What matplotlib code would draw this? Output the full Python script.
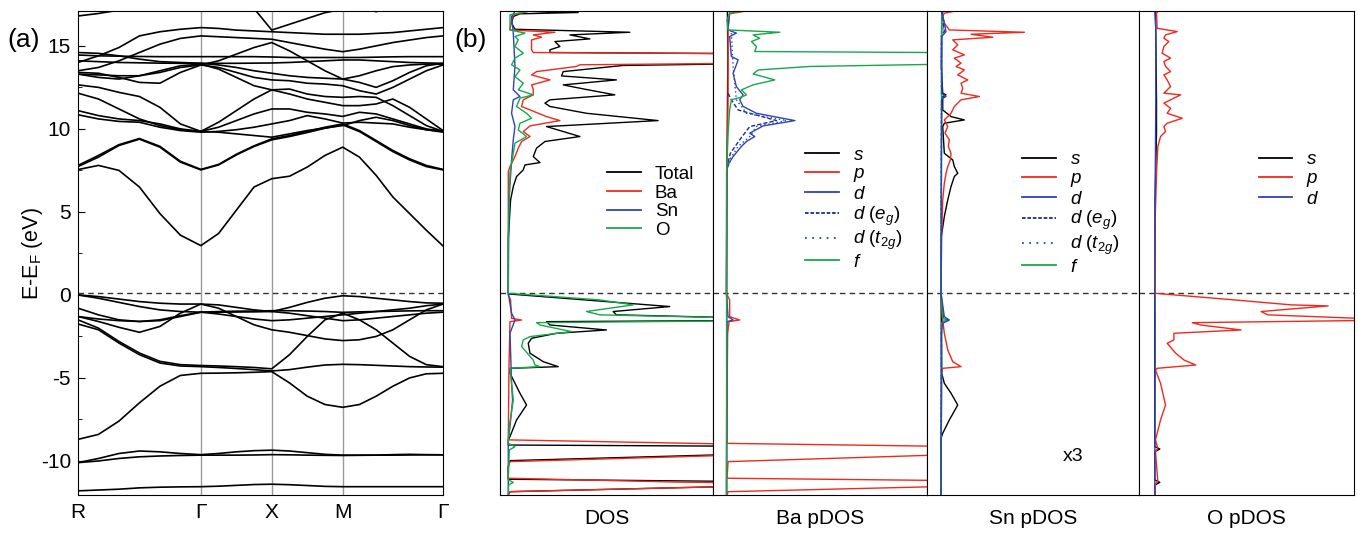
import matplotlib
matplotlib.use("Agg")
import matplotlib.pyplot as plt
from matplotlib.lines import Line2D
import numpy as np

plt.rcParams['font.family'] = ['Liberation Sans', 'DejaVu Sans']
plt.rcParams['mathtext.fontset'] = 'custom'
plt.rcParams['mathtext.rm'] = 'Liberation Sans'
plt.rcParams['mathtext.it'] = 'Liberation Sans:italic'
plt.rcParams['axes.unicode_minus'] = False

RED = '#f0281e'
BLUE = '#2b45b5'
NAVY = '#1c2c8c'
GREEN = '#16a84a'

# ---------------- band structure data ----------------
kpath_labels = ['R', 'Γ', 'X', 'M', 'Γ']
kpath_nodes = [0.0, 0.866, 1.366, 1.866, 2.573]
seg_points = [6, 4, 4, 6]

bands = [
    [-11.8,-11.75,-11.7,-11.62,-11.58,-11.56,-11.55, -11.52,-11.47,-11.42,-11.4, -11.43,-11.48,-11.53,-11.55, -11.55,-11.55,-11.55,-11.55,-11.55,-11.55],
    [-10.1,-9.85,-9.55,-9.4,-9.45,-9.55,-9.62, -9.55,-9.45,-9.38,-9.35, -9.4,-9.5,-9.6,-9.65, -9.65,-9.65,-9.62,-9.6,-9.62,-9.63],
    [-10.1,-10.0,-9.85,-9.75,-9.7,-9.67,-9.65, -9.65,-9.65,-9.64,-9.62, -9.63,-9.65,-9.66,-9.67, -9.66,-9.65,-9.65,-9.64,-9.63,-9.63],
    [-8.7,-8.4,-7.6,-6.5,-5.5,-4.85,-4.72, -4.71,-4.69,-4.66,-4.62, -5.3,-6.1,-6.6,-6.77, -6.6,-6.1,-5.5,-5.0,-4.75,-4.72],
    [-1.75,-2.1,-2.9,-3.6,-4.1,-4.28,-4.32, -4.37,-4.43,-4.5,-4.58, -4.5,-4.35,-4.22,-4.18, -4.2,-4.24,-4.28,-4.32,-4.34,-4.35],
    [-1.5,-2.0,-2.8,-3.5,-4.0,-4.2,-4.25, -4.28,-4.32,-4.37,-4.45, -3.6,-2.5,-1.5,-1.1, -1.5,-2.1,-2.9,-3.7,-4.2,-4.32],
    [0.0,-0.1,-0.25,-0.4,-0.5,-0.55,-0.55, -0.6,-0.75,-0.9,-1.0, -0.75,-0.45,-0.2,-0.05, -0.1,-0.2,-0.3,-0.4,-0.48,-0.5],
    [0.0,-0.2,-0.45,-0.7,-0.9,-1.0,-1.04, -1.04,-1.03,-1.02,-1.0, -1.1,-1.25,-1.4,-1.55, -1.5,-1.4,-1.3,-1.2,-1.1,-1.04],
    [-1.3,-1.6,-1.95,-2.25,-1.9,-1.1,-0.55, -0.8,-1.3,-1.8,-2.1, -2.25,-2.45,-2.65,-2.75, -2.7,-2.5,-2.1,-1.5,-0.9,-0.55],
    [-0.8,-1.2,-1.5,-1.6,-1.55,-1.3,-1.04, -1.15,-1.3,-1.45,-1.55, -1.5,-1.4,-1.3,-1.2, -1.1,-1.0,-0.9,-0.8,-0.65,-0.55],
    [-1.3,-1.45,-1.55,-1.6,-1.5,-1.25,-1.04, -1.0,-0.98,-0.97,-0.95, -0.95,-0.97,-1.0,-1.05, -1.02,-1.0,-0.98,-0.96,-0.95,-0.95],
    [7.55,7.8,7.5,6.5,4.9,3.6,2.97, 3.7,5.1,6.5,7.0, 7.15,7.7,8.4,8.9, 8.3,7.2,5.9,4.9,3.9,2.95],
    [7.73,8.3,9.0,9.38,8.9,8.0,7.53, 7.83,8.43,8.94,9.34, 9.54,9.78,10.04,10.24, 9.84,9.24,8.63,8.13,7.73,7.53],
    [7.8,8.4,9.05,9.42,8.95,8.05,7.56, 7.86,8.47,8.98,9.4, 9.6,9.85,10.1,10.3, 9.9,9.3,8.7,8.2,7.8,7.56],
    [11.1,10.8,10.6,10.5,10.3,10.0,9.85, 10.1,10.5,10.9,11.2, 11.2,11.0,10.9,10.75, 11.0,10.9,10.6,10.3,10.0,9.85],
    [10.85,10.6,10.45,10.4,10.1,9.9,9.8, 9.85,9.95,10.1,10.3, 10.5,10.8,10.6,10.35, 10.4,10.35,10.3,10.1,9.95,9.85],
    [12.15,11.8,11.2,10.6,10.2,9.95,9.85, 9.8,9.7,9.6,9.5, 9.7,9.9,10.05,10.2, 10.5,10.7,10.5,10.2,9.95,9.8],
    [12.65,12.5,12.2,11.95,11.3,10.3,9.85, 10.4,11.1,11.8,12.35, 12.4,12.1,11.95,11.9, 11.95,11.9,11.4,10.8,10.2,9.85],
    [13.3,13.25,13.2,13.2,13.4,13.7,13.85, 13.7,13.4,13.1,12.95, 12.9,12.75,12.7,12.6, 12.3,12.1,12.5,13.0,13.5,13.85],
    [13.4,13.35,13.1,12.8,12.75,13.4,13.85, 14.1,14.5,14.9,15.2, 14.7,14.1,13.5,13.0, 13.2,13.5,13.75,13.85,13.9,13.9],
    [14.45,14.4,14.38,14.36,14.35,14.35,14.35, 14.35,14.35,14.35,14.33, 14.3,14.3,14.3,14.3, 14.3,14.32,14.34,14.35,14.35,14.35],
    [14.1,14.05,14.0,13.98,13.96,13.95,13.95, 13.95,13.95,13.96,13.97, 14.0,14.05,14.1,14.15, 14.15,14.1,14.05,14.0,13.97,13.95],
    [13.5,13.7,14.1,14.6,15.1,15.45,15.6, 15.55,15.5,15.45,15.4, 15.2,15.0,14.8,14.65, 14.8,15.0,15.2,15.35,15.5,15.6],
    [14.0,14.4,14.9,15.6,15.85,16.0,16.1, 16.05,15.95,15.9,15.85, 15.8,15.75,15.7,15.7, 15.7,15.75,15.8,15.9,16.0,16.1],
    [14.6,14.55,14.4,14.2,14.05,14.0,13.95, 13.85,13.7,13.5,13.35, 13.2,13.1,13.05,13.0, 12.8,12.5,12.9,13.4,13.8,13.95],
    [13.3,13.1,13.0,13.2,13.5,13.8,13.9, 13.6,13.1,12.6,12.35, 12.1,11.8,11.6,11.4, 11.4,11.5,11.8,11.3,10.6,9.9],
    [16.8,16.95,17.15,17.4,17.6,17.8,17.9, 18.2,18.0,17.25,15.95, 16.3,16.65,17.0,17.2, 17.3,17.4,17.5,17.6,17.7,17.8],
    [18.0,18.0,18.0,18.0,18.0,18.0,18.0, 18.0,18.0,18.0,18.0, 18.0,18.0,18.0,17.6, 17.3,17.06,17.3,17.6,17.8,18.0],
]

# ---------------- DOS data (E in eV, DOS in arb. units) ----------------
tot_E = [17.11,17.01,16.93,16.77,16.37,16.0,15.82,15.66,15.42,15.26,14.96,14.76,14.6,14.5,14.0,13.82,13.45,13.19,12.95,12.65,12.39,12.05,11.75,11.55,11.35,10.94,10.5,10.14,9.84,9.54,9.24,8.84,8.33,7.97,7.83,7.53,7.13,6.53,5.72,3.41,
         0.06,-0.7,-1.0,-1.2,-1.51,-1.61,-1.81,-2.11,-2.31,-2.61,-2.91,-3.51,-4.02,-4.32,-4.42,-4.72,-5.92,-6.63,-7.53,-8.53,-8.73,-9.04,-9.14,-9.44,-9.98,-10.34,-11.1,-11.29,-11.39,-11.85,-12.05]
tot_v = [1.7,70,11.7,5,3.3,6.7,121.7,61.7,81.7,46.7,51.7,41.7,41.7,325,325,115,55,53.3,108.3,55,76.7,106.7,41.7,36.7,41.7,78.3,150,38.3,55,71.7,36.7,28.3,25,31.7,16.7,15,8.3,5,2.3,0,
         0,161.7,105,108.3,325,38.3,41.7,98.3,48.3,23.3,20,21.7,35,50,1.7,1.7,11.7,18.3,8.3,1.7,0,0,325,325,1.7,0,0,325,325,1.7,0]

ba_E = [17.07,16.87,16.57,15.96,15.82,15.66,15.52,15.36,14.76,14.6,14.5,14.0,13.86,13.76,13.45,13.25,12.95,12.65,12.39,12.05,11.75,11.35,10.74,10.5,10.18,9.84,9.54,9.24,8.84,8.33,7.73,7.43,
        0,-0.3,-1.41,-1.51,-1.61,-4.32,-8.73,-9.1,-9.48,-10.04,-10.34,-11.04,-11.27,-11.39,-11.85,-12.05]
ba_v = [20,5,3.3,1.7,46.7,25,33.3,23.3,23.3,25,325,325,71.7,68.3,28.3,23.3,41.7,23.3,25,25,15,13.3,38.3,51.7,21.7,15,21.7,13.3,10,6.7,1.7,0,
        0,2.3,3.3,13.3,1.7,0.7,0,325,325,1.7,0,0,168,325,1.7,0]

sn_E = [17.07,16.77,15.77,13.76,12.35,11.95,11.75,10.94,10.14,9.34,8.13,5.72,0.1,-1.1,-1.51,-2.31,-5.32,-6.33,-7.93,-8.73,-12.05]
sn_v = [6.7,3.3,5,6.7,5,11.7,5,3.3,6.7,5,3.3,0.7,0,3.3,6.7,1.7,3.3,4.3,1.7,0,0]

o_E = [17.07,16.87,15.96,15.77,15.56,15.36,14.96,14.56,14.26,13.86,13.55,13.15,12.75,12.35,12.05,11.85,11.35,10.94,10.64,10.34,9.94,9.54,9.14,8.53,7.93,7.33,3.71,
       0.1,-0.3,-0.6,-1.0,-1.2,-1.51,-1.67,-1.81,-2.21,-2.51,-2.71,-3.11,-3.92,-4.22,-4.32,-4.42,-6.33,-7.93,-8.94,-9.14,-9.34,-11.14,-11.29,-11.45,-12.05]
o_v = [18.3,1.7,1.7,16.7,6.7,10,6.7,15,6.7,3.3,11.7,6.7,15,10,25,11.7,8.3,18.3,23.3,11.7,10,18.3,6.7,5,3.3,1.7,0,
       0,91.7,125,78.3,91.7,325,28.3,31.7,63.3,21.7,15,13.3,25,26.7,31.7,1.7,5,1,0,6.7,1,0,5,0.3,0]

# Ba pDOS
ba_f_E = [17.11,16.97,16.57,15.96,15.82,15.66,15.46,15.26,14.96,14.66,14.56,14.0,13.76,13.55,13.31,12.95,12.65,12.35,12.05,11.91,11.75,11.14,9.74,7.33,-12.05]
ba_f_v = [16.7,3.3,0.7,1.7,53.3,26.7,33.3,25,30,28.3,317,317,83.3,31.7,26.7,48.3,26.7,15,20,15,5,3.3,1.7,0.3,0.3]
ba_d_E = [17.07,15.96,15.77,15.56,14.36,14.16,13.86,13.35,12.55,12.05,11.75,11.35,10.94,10.5,10.18,9.74,9.54,9.24,8.94,8.33,7.93,7.53,0.1,-1.31,-1.51,-1.61,-12.05]
ba_d_v = [3.3,1.7,10,3.3,5,11.7,10,6.7,10,16.7,13.3,16.7,30,68.3,36.7,23.3,28.3,20,15,6.7,2.7,0.3,0,1.7,6.7,0.7,0]
ba_eg_E = [12.15,11.75,11.14,10.5,10.14,9.34,8.53,7.73]
ba_eg_v = [1.7,5,11.7,50,23.3,13.3,4,0.7]
ba_t2g_E = [15.77,13.76,11.75,10.94,10.5,10.14,9.54,8.94,8.13,7.63]
ba_t2g_v = [5,6.7,10,20,60,30,23.3,11.7,3.3,0.7]
ba_p_E = [17.07,16.93,16.16,11.75,7.73,0.1,-0.3,-1.31,-1.51,-1.61,-2.31,-4.32,-8.94,-9.2,-9.44,-10.04,-11.04,-11.24,-11.39,-11.85,-12.05]
ba_p_v = [16.7,3.3,1.7,1.7,0.7,0,3.3,3.3,13.3,2.7,1.3,1,0.7,317,317,1.7,0.7,317,317,1.7,0.7]
ba_s_E = [17.11,14.5,7.0,0.0,-12.05]
ba_s_v = [1.0,1.5,0.5,0.3,0.3]

# Sn pDOS (x3)
sn_p_E = [17.11,16.97,16.77,16.37,15.96,15.82,15.7,15.52,15.36,15.06,14.76,14.46,14.26,13.96,13.76,13.55,13.25,12.95,12.75,12.45,12.15,11.95,11.75,11.35,10.94,10.54,10.14,9.74,9.34,8.94,8.53,8.13,7.73,7.33,6.73,5.72,3.71,
          0.1,-1.51,-2.31,-3.31,-4.02,-4.32,-4.42,-4.62,-12.05]
sn_p_v = [15,3.3,1.7,3.3,8.3,83.3,30,51.7,11.7,16.7,11.7,23.3,13.3,20,15,23.3,16.7,26.7,20,21.7,20,38.3,20,13.3,10,3.3,6.7,4,8.3,7.3,10,9.3,6.7,5,3.3,1.7,0.7,
          0,1.7,3.3,6.7,11.7,20,1.7,0.7,0]
sn_s_E = [17.11,13.76,12.15,12.05,11.95,11.14,10.74,10.54,10.34,10.14,8.53,8.13,7.73,7.33,7.13,6.53,5.72,4.72,3.51,0.1,-4.72,-5.32,-5.92,-6.63,-7.53,-8.33,-8.63,-12.05]
sn_s_v = [0.7,0.3,1.7,5,1.7,1.7,10,23.3,3.3,1.7,3.3,11.7,13.3,16.7,13.3,10,6.7,3.3,0.3,0,0.7,3.3,10,16.7,8.3,1.7,0,0]
sn_d_E = [17.11,15.86,15.56,12.15,11.95,11.81,0.1,-1.31,-1.51,-1.71,-2.31,-12.05]
sn_d_v = [0.7,5,0.7,0.7,5,0.7,0,3.3,8.3,1.7,0.3,0]
sn_eg_E = [17.11,15.86,15.6,12.1,11.95,11.8,0.1,-1.4,-1.51,-1.65,-12.05]
sn_eg_v = [0.5,3.3,0.5,0.5,3.3,0.5,0,2.5,6.7,0.5,0]
sn_t2g_E = [17.11,15.86,15.6,12.1,11.95,11.8,0.1,-1.4,-1.51,-1.65,-12.05]
sn_t2g_v = [0.4,2.5,0.4,0.4,2.5,0.4,0,2,5.5,0.4,0]
sn_f_E = [17.11,16.87,0.1,-1.41,-1.51,-1.67,-12.05]
sn_f_v = [2.7,0.7,0,1.7,6,0.7,0]

# O pDOS
o_p_E = [17.11,16.97,16.06,15.86,15.66,15.46,15.26,14.96,14.56,14.26,14.06,13.76,13.45,13.25,12.95,12.55,12.15,12.05,11.75,11.55,11.24,10.94,10.64,10.34,10.14,9.84,9.54,8.94,7.33,3.71,
         0.1,-0.3,-0.6,-0.66,-1.0,-1.2,-1.51,-1.67,-1.81,-2.11,-2.31,-2.71,-2.91,-3.51,-3.92,-4.22,-4.42,-4.52,-5.32,-6.63,-7.53,-8.73,-9.24,-9.44,-11.24,-11.39,-12.05]
o_p_v = [4,1.7,2.3,22.3,10.7,9,14,9,7.3,15.7,9,10.7,15.7,9,12.3,15.7,9,25.7,15.7,9,15.7,12.3,27.3,12.3,9,10.7,5.7,3,1.7,0,
         0,79,135.7,172.3,105.7,112.3,245.7,37.3,45.7,85.7,19,19,12.3,20.7,29,40.7,2.3,0.7,5.7,10.7,5.7,0.7,3,0.7,3,0.7,0]
o_s_E = [17.11,11.75,9.74,5.72,0.1,-9.14,-9.28,-9.44,-11.14,-11.29,-11.45,-12.05]
o_s_v = [0.7,1.7,1.7,0.3,0,0,5,0,0,5,0,0]
o_d_E = [17.11,15.96,11.75,5.72,0.1,-1.51,-12.05]
o_d_v = [0,1,1,0.3,0,0.3,0]

E_MIN, E_MAX = -12.05, 17.1
E_FERMI_LINE = 0.1

W, H = 1358, 548
fig = plt.figure(figsize=(W / 100, H / 100), dpi=100)


def fr(x0, x1):
    return [x0 / W, 53 / H, (x1 - x0) / W, 484 / H]


# ---------------- (a) band structure ----------------
ax = fig.add_axes(fr(78, 443))
k = [kpath_nodes[0]]
for i, n in enumerate(seg_points):
    k += list(np.linspace(kpath_nodes[i], kpath_nodes[i + 1], n + 1)[1:])
k = np.array(k)
for b in bands:
    ax.plot(k, b, color='black', lw=1.2, solid_joinstyle='round')
for kn in kpath_nodes[1:-1]:
    ax.axvline(kn, color='#9a9a9a', lw=1.0, zorder=0)
ax.axhline(E_FERMI_LINE, color='#333333', lw=1.0, ls=(0, (4, 3)))
ax.set_xlim(kpath_nodes[0], kpath_nodes[-1])
ax.set_ylim(E_MIN, E_MAX)
ax.set_xticks(kpath_nodes)
ax.set_xticklabels(kpath_labels, fontsize=15)
ax.set_yticks([-10, -5, 0, 5, 10, 15])
ax.set_yticks(np.arange(-10, 17, 2.5), minor=True)
ax.tick_params(axis='y', direction='in', length=5, labelsize=15, pad=5)
ax.tick_params(axis='y', which='minor', direction='in', length=3)
ax.tick_params(axis='x', length=0, pad=6)
ax.set_ylabel('E-E$_\\mathrm{F}$ (eV)', fontsize=15.5, labelpad=-3)
fig.text(7 / W, 1 - 40 / H, '(a)', fontsize=19, va='center')
fig.text(454 / W, 1 - 40 / H, '(b)', fontsize=19, va='center')


# ---------------- (b) DOS panels ----------------
def dos_axes(x0, x1, xlim, label):
    a = fig.add_axes(fr(x0, x1))
    a.set_xlim(*xlim)
    a.set_ylim(E_MIN, E_MAX)
    a.set_xticks([])
    a.set_yticks([])
    a.set_xlabel(label, fontsize=15, labelpad=10)
    a.axhline(E_FERMI_LINE, color='#333333', lw=1.0, ls=(0, (4, 3)))
    return a


def leg(a, handles, labels, x, y):
    a.legend(handles, labels, loc='upper left', bbox_to_anchor=(x, y), frameon=False,
             fontsize=13.5, handlelength=1.8, handletextpad=0.75, labelspacing=0.08,
             borderpad=0, borderaxespad=0)


def h(color, ls='-'):
    return Line2D([0], [0], color=color, lw=1.3, ls=ls)


ital = ['$s$', '$p$', '$d$', '$d\\ (e_g)$', '$d\\ (t_{2g})$', '$f$']
lw = 1.0

a1 = dos_axes(500, 713, (-8.3, 205), 'DOS')
a1.plot(tot_v, tot_E, color='black', lw=lw)
a1.plot(ba_v, ba_E, color=RED, lw=lw)
a1.plot(sn_v, sn_E, color=BLUE, lw=lw)
a1.plot(o_v, o_E, color=GREEN, lw=lw)
leg(a1, [h('black'), h(RED), h(BLUE), h(GREEN)], ['Total', 'Ba', 'Sn', 'O'], 0.502, 0.68)

a2 = dos_axes(713, 927, (-13.3, 200), 'Ba pDOS')
a2.plot(ba_s_v, ba_s_E, color='black', lw=lw)
a2.plot(ba_p_v, ba_p_E, color=RED, lw=lw)
a2.plot(ba_d_v, ba_d_E, color=BLUE, lw=lw)
a2.plot(ba_eg_v, ba_eg_E, color=NAVY, lw=lw, ls=(0, (3, 1.5)))
a2.plot(ba_t2g_v, ba_t2g_E, color=BLUE, lw=lw, ls=(0, (1, 2)))
a2.plot(ba_f_v, ba_f_E, color=GREEN, lw=lw)
pd_handles = [h('black'), h(RED), h(BLUE), h(NAVY, (0, (2, 1))), h(BLUE, (0, (1, 3))), h(GREEN)]
leg(a2, pd_handles, ital, 0.43, 0.72)

a3 = dos_axes(927, 1139, (-14, 197.7), 'Sn pDOS')
a3.plot(sn_s_v, sn_s_E, color='black', lw=lw)
a3.plot(sn_p_v, sn_p_E, color=RED, lw=lw)
a3.plot(sn_eg_v, sn_eg_E, color=NAVY, lw=lw, ls=(0, (3, 1.5)))
a3.plot(sn_t2g_v, sn_t2g_E, color=BLUE, lw=lw, ls=(0, (1, 2)))
a3.plot(sn_f_v, sn_f_E, color=GREEN, lw=lw)
a3.plot(sn_d_v, sn_d_E, color=BLUE, lw=lw)
leg(a3, pd_handles, ital, 0.448, 0.71)
a3.text(0.69, 0.079, 'x3', transform=a3.transAxes, fontsize=14, ha='center', va='center')

a4 = dos_axes(1139, 1354, (-15.7, 198), 'O pDOS')
a4.plot(o_s_v, o_s_E, color='black', lw=lw)
a4.plot(o_p_v, o_p_E, color=RED, lw=lw)
a4.plot(o_d_v, o_d_E, color=BLUE, lw=lw)
leg(a4, [h('black'), h(RED), h(BLUE)], ital[:3], 0.556, 0.71)

fig.savefig('out.png', dpi=100)
